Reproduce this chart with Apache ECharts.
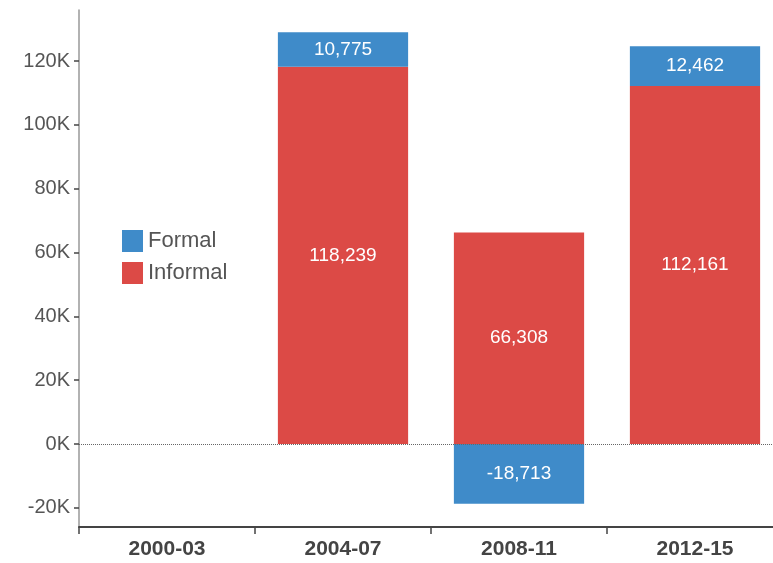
<!DOCTYPE html>
<html>
<head>
<meta charset="utf-8">
<script src="https://cdn.jsdelivr.net/npm/echarts@6/dist/echarts.min.js"></script>
<style>
  html, body { margin: 0; padding: 0; background: #fff; }
  #chart { width: 773px; height: 563px; }
</style>
</head>
<body>
<div id="chart"></div>
<script>
// data
const periods = ['2000-03', '2004-07', '2008-11', '2012-15'];
const formal = [null, 10775, -18713, 12462];
const informal = [null, 118239, 66308, 112161];
const yTicks = [-20000, 0, 20000, 40000, 60000, 80000, 100000, 120000];

const blue = '#3f8bc9';
const red = '#dc4a46';
const myChart = echarts.init(document.getElementById('chart'));

const labelStyle = {
  show: true,
  position: 'inside',
  color: '#fff',
  fontSize: 19,
  fontFamily: 'Liberation Sans, Arial',
  formatter: (p) => p.value == null ? '' : p.value.toLocaleString('en-US')
};

const option = {
  animation: false,
  grid: { left: 79, width: 704, top: 10, bottom: 36, outerBoundsMode: 'none' },
  legend: {
    orient: 'vertical',
    left: 117,
    top: 225,
    itemWidth: 21,
    itemHeight: 22,
    itemGap: 10,
    icon: 'rect',
    textStyle: { fontSize: 22, color: '#555', fontFamily: 'Liberation Sans, Arial' },
    data: ['Formal', 'Informal']
  },
  xAxis: {
    type: 'category',
    data: periods,
    axisLine: { onZero: false, lineStyle: { color: '#444', width: 2 } },
    axisTick: { show: true, length: 7, lineStyle: { color: '#444', width: 1.5 } },
    axisLabel: {
      fontSize: 21, fontWeight: 'bold', color: '#444', margin: 12,
      fontFamily: 'Liberation Sans, Arial'
    }
  },
  yAxis: {
    type: 'value',
    min: -26000,
    max: 136000,
    axisLine: { show: true, lineStyle: { color: '#999', width: 1.5 } },
    axisTick: { show: true, length: 5, customValues: yTicks, lineStyle: { color: '#444', width: 1.5 } },
    splitLine: { show: false },
    axisLabel: {
      customValues: yTicks,
      fontSize: 20, color: '#555', margin: 9,
      fontFamily: 'Liberation Sans, Arial',
      formatter: (v) => (v / 1000) + 'K'
    }
  },
  series: [
    {
      name: 'Informal',
      type: 'bar',
      stack: 'total',
      barWidth: '74%',
      itemStyle: { color: red },
      data: informal,
      label: labelStyle,
      markLine: {
        silent: true,
        symbol: 'none',
        label: { show: false },
        lineStyle: { color: '#666', type: 'dotted', width: 1 },
        data: [{ yAxis: 0 }]
      }
    },
    {
      name: 'Formal',
      type: 'bar',
      stack: 'total',
      barWidth: '74%',
      itemStyle: { color: blue },
      data: formal,
      label: labelStyle
    }
  ]
};

option && myChart.setOption(option);
</script>
</body>
</html>
